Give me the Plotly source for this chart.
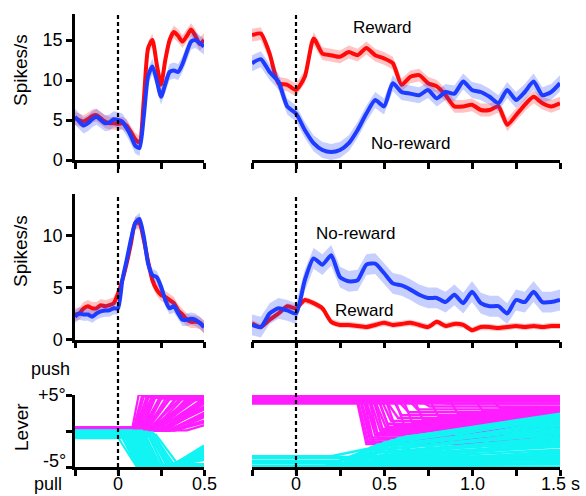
import numpy as np
import plotly.graph_objects as go

W, H = 586, 496

# ---------------- time bases (s) ----------------
T_SHORT = np.round(np.arange(-0.25, 0.5001, 0.025), 3)   # aligned to lever onset
T_LONG = np.round(np.arange(-0.25, 1.5001, 0.05), 3)     # aligned to outcome

# ---------------- neuron 1 (top row), spikes/s ----------------
N1_SHORT_REWARD = [5.2, 5.0, 4.8, 5.1, 5.5, 5.6, 5.2, 4.8, 4.6, 4.6, 4.5, 4.6, 4.3, 3.5, 2.6, 2.2,
                   7.5, 14.0, 15.0, 12.0, 9.4, 12.5, 15.0, 16.0, 15.5, 14.8, 15.5, 16.3, 15.5, 14.5, 15.0]
N1_SHORT_NOREWARD = [5.4, 4.8, 4.3, 4.6, 5.1, 5.4, 5.0, 4.6, 4.7, 5.1, 5.0, 4.8, 4.0, 3.0, 1.8, 1.5,
                     5.5, 10.5, 11.7, 10.0, 7.9, 9.5, 11.0, 11.2, 11.0, 12.0, 13.5, 14.8, 15.0, 14.6, 14.2]
N1_LONG_REWARD = [15.6, 15.8, 13.3, 9.6, 9.4, 8.75, 10.4, 15.2, 13.3, 13.1, 12.9, 13.5, 13.1, 14.0, 13.1,
                  12.7, 12.1, 9.4, 10.4, 10.6, 9.6, 9.2, 8.1, 6.7, 6.7, 6.9, 6.25, 6.25, 6.7, 4.4, 5.6,
                  6.9, 7.9, 7.1, 6.7, 7.1]
N1_LONG_NOREWARD = [12.1, 12.6, 11.0, 9.8, 6.7, 5.8, 3.75, 2.1, 1.25, 1.0, 1.25, 2.1, 3.75, 5.8, 7.5,
                    6.7, 9.6, 8.5, 8.3, 8.1, 8.75, 7.7, 8.5, 8.3, 9.8, 8.75, 8.5, 7.9, 7.1, 8.75, 7.5,
                    8.5, 9.8, 8.1, 8.5, 9.6]
N1_SEM_REWARD = 0.8
N1_SEM_NOREWARD = 1.0

# ---------------- neuron 2 (middle row), spikes/s ----------------
N2_SHORT_REWARD = [2.4, 2.5, 3.0, 3.2, 3.0, 3.0, 3.3, 3.2, 3.3, 3.5, 4.4, 5.7, 7.3, 9.2, 11.2, 11.2,
                   9.6, 7.5, 5.7, 4.8, 4.3, 4.1, 3.8, 3.5, 2.8, 2.4, 1.9, 1.7, 1.7, 1.6, 1.2]
N2_SHORT_NOREWARD = [2.2, 2.5, 2.4, 2.4, 2.2, 2.5, 2.7, 2.8, 2.8, 3.0, 3.0, 5.7, 7.6, 9.6, 11.2, 11.6,
                     9.9, 7.3, 6.2, 6.0, 5.1, 3.8, 3.0, 3.2, 2.5, 1.9, 1.9, 2.0, 1.9, 1.6, 1.2]
N2_LONG_REWARD = [1.55, 1.2, 1.9, 2.5, 3.2, 3.0, 3.8, 3.5, 3.0, 1.7, 1.4, 1.4, 1.3, 1.2, 1.4, 1.6, 1.4,
                  1.5, 1.6, 1.4, 1.2, 1.7, 1.3, 1.5, 1.4, 0.9, 1.2, 1.2, 1.1, 1.2, 1.3, 1.2, 1.3, 1.2,
                  1.3, 1.3]
N2_LONG_NOREWARD = [1.4, 1.2, 2.5, 3.0, 2.8, 2.5, 5.7, 7.8, 7.2, 8.1, 6.0, 5.6, 5.7, 7.2, 7.3, 6.4, 5.4,
                    5.2, 4.8, 4.3, 4.0, 4.0, 3.6, 4.3, 3.5, 4.6, 3.5, 3.2, 3.2, 2.5, 3.8, 3.6, 4.6, 3.6,
                    3.6, 3.8]
N2_SEM_SHORT = 0.6
N2_SEM_REWARD = 0.3
N2_SEM_NOREWARD = 1.0

# ---------------- lever trajectories (deg), one entry per trial ----------------
# Left panels (aligned to lever onset): resting level, movement onset (s), movement time (s),
# reached level, level at the end of the window.
PUSH_L_BASE = [0.0, 0.3, 0.5, 0.1, 0.4, 0.2, 0.0, 0.5, 0.3, 0.1, 0.4, 0.2, 0.0, 0.3, 0.5, 0.1,
               0.2, 0.4, 0.0, 0.3, 0.1, 0.5, 0.2, 0.4, 0.0, 0.3, 0.1, 0.2, 0.5, 0.0, 0.4, 0.2,
               0.25, 0.15, 0.35, 0.05, 0.45, 0.15, 0.35, 0.05, 0.25, 0.45, 0.15, 0.35, 0.05, 0.25,
               0.4, 0.1]
PUSH_L_ONSET = [0.08, 0.09, 0.10, 0.10, 0.11, 0.12, 0.12, 0.13, 0.14, 0.14, 0.15, 0.16, 0.16, 0.17,
                0.18, 0.18, 0.19, 0.20, 0.20, 0.21, 0.22, 0.22, 0.23, 0.24, 0.25, 0.26, 0.27, 0.28,
                0.29, 0.30, 0.32, 0.34, 0.11, 0.13, 0.15, 0.17, 0.19, 0.21, 0.23, 0.24, 0.26, 0.28,
                0.30, 0.31, 0.33, 0.36, 0.38, 0.40]
PUSH_L_DUR = [0.04, 0.05, 0.05, 0.07, 0.06, 0.06, 0.09, 0.08, 0.08, 0.11, 0.10, 0.10, 0.14, 0.12,
              0.12, 0.17, 0.15, 0.15, 0.20, 0.18, 0.18, 0.24, 0.22, 0.24, 0.26, 0.28, 0.28, 0.30,
              0.32, 0.34, 0.36, 0.40, 0.09, 0.13, 0.16, 0.21, 0.25, 0.27, 0.30, 0.33, 0.35, 0.38,
              0.40, 0.45, 0.48, 0.50, 0.55, 0.60]
PUSH_L_LEVEL = [5.0, 4.9, 4.8, 5.0, 4.7, 4.9, 5.0, 4.6, 4.8, 5.0, 4.5, 4.9, 4.7, 5.0, 4.4, 4.8,
                4.6, 5.0, 4.3, 4.9, 4.5, 5.0, 4.7, 4.2, 4.8, 5.0, 4.6, 4.4, 4.9, 4.1, 4.7, 4.5,
                4.95, 4.85, 4.75, 4.9, 4.65, 4.8, 4.55, 4.95, 4.35, 4.85, 4.25, 4.6, 4.0, 4.4,
                3.9, 4.3]

PULL_L_BASE = [-0.9, -0.2, -0.6, 0.0, -0.8, -0.4, -1.0, -0.1, -0.7, -0.3, -0.5, 0.1, -0.85, -0.25,
               -0.65, -0.05, -0.95, -0.45, -0.15, -0.75, -0.35, -0.55, 0.05, -0.9, -0.3, -0.6,
               -0.1, -0.8, -0.4, -0.2, -0.7, -0.5, -0.45, -0.75, -0.2, -0.6, -0.9, 0.0, -0.35,
               -0.65, -0.15, -0.85, -0.5, -0.25]
PULL_L_ONSET = [0.00, 0.01, 0.02, 0.03, 0.04, 0.05, 0.05, 0.06, 0.07, 0.07, 0.08, 0.08, 0.09, 0.09,
                0.10, 0.10, 0.11, 0.11, 0.12, 0.12, 0.13, 0.13, 0.14, 0.14, 0.15, 0.16, 0.17, 0.18,
                0.19, 0.20, 0.21, 0.22, 0.035, 0.055, 0.075, 0.095, 0.105, 0.115, 0.125, 0.135,
                0.145, 0.165, 0.185, 0.205]
PULL_L_DUR = [0.11, 0.10, 0.10, 0.09, 0.09, 0.08, 0.08, 0.08, 0.07, 0.07, 0.07, 0.07, 0.06, 0.06,
              0.06, 0.06, 0.06, 0.06, 0.06, 0.06, 0.06, 0.07, 0.07, 0.07, 0.08, 0.08, 0.09, 0.09,
              0.10, 0.11, 0.12, 0.14, 0.09, 0.08, 0.07, 0.065, 0.06, 0.06, 0.065, 0.07, 0.075,
              0.085, 0.10, 0.12]
PULL_L_LEVEL = [-5.0, -4.9, -5.0, -4.8, -5.0, -5.0, -4.9, -5.0, -4.7, -5.0, -5.0, -4.9, -5.0, -5.0,
                -4.8, -5.0, -4.9, -5.0, -5.0, -4.7, -5.0, -4.9, -5.0, -4.8, -5.0, -5.0, -4.9, -5.0,
                -4.6, -5.0, -4.8, -5.0, -5.0, -4.9, -5.0, -5.0, -4.85, -5.0, -5.0, -4.75, -5.0,
                -5.0, -4.9, -5.0]
PULL_L_END = [-5.0, -2.4, -5.0, -4.8, -3.2, -5.0, -4.9, -2.0, -4.7, -5.0, -3.6, -4.9, -5.0, -2.8,
              -4.8, -5.0, -4.0, -5.0, -3.0, -4.7, -5.0, -2.2, -5.0, -4.8, -3.4, -5.0, -4.9, -2.6,
              -4.6, -5.0, -3.8, -5.0, -5.0, -4.9, -3.1, -5.0, -4.85, -2.5, -5.0, -4.0, -5.0,
              -3.5, -4.9, -2.9]

# Right panels (aligned to outcome): holding level, release time (s; 9 = still holding at 1.5 s),
# level after release and level at the end of the window.
PUSH_R_BASE = [4.9, 4.5, 4.8, 4.2, 5.0, 4.6, 4.0, 4.8, 4.4, 5.0, 4.7, 4.1, 4.9, 4.3, 4.6, 5.0, 3.9,
               4.8, 4.5, 4.2, 4.9, 4.6, 5.0, 4.3, 4.7, 4.0, 4.8, 4.4, 4.9, 4.6, 5.0, 4.7, 4.4, 4.1,
               4.85, 4.55, 3.8, 4.95, 4.25, 4.65]
PUSH_R_RELEASE = [0.34, 0.35, 0.36, 0.37, 0.38, 0.39, 0.40, 0.41, 0.42, 0.43, 0.44, 0.45, 0.46, 0.47,
                  0.48, 0.50, 0.52, 0.54, 0.56, 0.58, 0.60, 0.63, 0.66, 0.70, 0.75, 0.80, 0.86, 0.93,
                  1.00, 1.10, 9, 9, 9, 9, 9, 9, 9, 9, 9, 9]
PUSH_R_LEVEL = [-1.8, -1.5, -1.2, -0.9, -1.6, -0.6, -0.3, -1.0, 0.0, 0.3, -0.5, 0.6, 1.0, 0.2, 1.4,
                0.8, 1.8, 2.2, 0.5, 2.6, 1.2, 3.0, 1.6, 3.4, 2.0, 3.8, 2.4, 4.2, 2.8, 3.2,
                0, 0, 0, 0, 0, 0, 0, 0, 0, 0]

PULL_R_BASE = [-5.0, -4.9, -5.0, -4.95, -3.5, -5.0, -4.9, -5.0, -4.2, -4.95, -5.0, -4.9, -5.0, -4.85,
               -5.0, -3.8, -4.95, -5.0, -4.9, -5.0, -4.95, -5.0, -4.5, -4.9, -5.0, -4.95, -5.0, -4.9,
               -5.0, -4.95, -5.0, -4.9, -5.0, -4.95, -5.0, -4.9, -3.6, -5.0, -4.95, -4.4]
PULL_R_RELEASE = [0.15, 0.16, 0.18, 0.19, 0.20, 0.21, 0.22, 0.23, 0.24, 0.25, 0.26, 0.27, 0.28, 0.29,
                  0.30, 0.31, 0.32, 0.33, 0.34, 0.35, 0.36, 0.37, 0.38, 0.40, 0.42, 0.44, 0.46, 0.48,
                  0.50, 0.53, 0.56, 0.60, 0.65, 0.72, 0.80, 0.90, 9, 9, 9, 9]
PULL_R_LEVEL = [-3.2, -4.5, -2.8, -4.0, -2.5, -3.6, -4.8, -2.2, -3.0, -4.2, -1.9, -3.4, -4.6, -2.6,
                -1.6, -3.8, -4.4, -2.0, -1.3, -3.1, -4.1, -2.4, -1.0, -3.5, -0.8, -2.7, -4.3, -1.8,
                -0.6, -3.3, -2.1, -1.4, -3.9, -0.5, -2.9, -1.2, -5, -5, -5, -5]
PULL_R_END = [-1.5, -4.0, -0.5, -3.2, 0.4, -2.0, -4.6, 1.0, -1.0, -3.4, 1.6, -1.8, -4.3, 0.0, 2.0,
              -2.6, -3.8, 0.7, 2.2, -1.2, -3.0, -0.2, 2.4, -2.2, 1.8, -0.8, -3.6, 1.3, 2.3, -1.6,
              0.2, 1.5, -2.8, 2.0, -0.4, 0.9, -5, -5, -5, -5]

# axis labels of the lever panels
SHORT_LABELS = {0: "0", 0.5: "0.5"}
LONG_LABELS = {0: "0", 0.5: "0.5", 1.0: "1.0", 1.5: "1.5 s"}
LEVER_LABELS = {5: "+5°", -5: "-5°"}

RED, BLUE = "#ff0a0a", "#1e3cff"
RED_BAND, BLUE_BAND = "rgba(255,40,40,0.28)", "rgba(40,70,255,0.26)"
MAGENTA, CYAN = "#ff1cff", "#12f4f4"
FONT = "Liberation Sans, Arial, sans-serif"

fig = go.Figure()


def mean_trace(t, y, sem, color, band, xa, ya):
    y = np.asarray(y, dtype=float)
    xs = np.concatenate([t, t[::-1]])
    ys = np.concatenate([y + sem, (y - sem)[::-1]])
    fig.add_trace(go.Scatter(x=xs, y=ys, fill="toself", fillcolor=band, line=dict(width=0),
                             mode="lines", hoverinfo="skip", showlegend=False, xaxis=xa, yaxis=ya))
    fig.add_trace(go.Scatter(x=t, y=y, mode="lines",
                             line=dict(color=color, width=4, shape="spline", smoothing=0.6),
                             showlegend=False, xaxis=xa, yaxis=ya))


mean_trace(T_SHORT, N1_SHORT_REWARD, N1_SEM_REWARD, RED, RED_BAND, "x", "y")
mean_trace(T_SHORT, N1_SHORT_NOREWARD, N1_SEM_NOREWARD, BLUE, BLUE_BAND, "x", "y")
mean_trace(T_LONG, N1_LONG_REWARD, N1_SEM_REWARD, RED, RED_BAND, "x2", "y2")
mean_trace(T_LONG, N1_LONG_NOREWARD, N1_SEM_NOREWARD, BLUE, BLUE_BAND, "x2", "y2")
mean_trace(T_SHORT, N2_SHORT_REWARD, N2_SEM_SHORT, RED, RED_BAND, "x3", "y3")
mean_trace(T_SHORT, N2_SHORT_NOREWARD, N2_SEM_SHORT, BLUE, BLUE_BAND, "x3", "y3")
mean_trace(T_LONG, N2_LONG_REWARD, N2_SEM_REWARD, RED, RED_BAND, "x4", "y4")
mean_trace(T_LONG, N2_LONG_NOREWARD, N2_SEM_NOREWARD, BLUE, BLUE_BAND, "x4", "y4")


def lever_group(t0, t1, base, onset, dur, level, end, hold, color, xa, ya, width=2.2):
    """All trials of one movement type as a single line trace (trials split by None)."""
    xs, ys = [], []
    for b, o, d, lv, e in zip(base, onset, dur, level, end):
        if o >= t1:
            xs += [t0, t1, None]
            ys += [b, b, None]
        else:
            reach = o + d
            settle = max(reach, hold)
            xs += [t0, o, reach, settle, t1, None]
            ys += [b, b, lv, lv, e, None]
    fig.add_trace(go.Scatter(x=xs, y=ys, mode="lines", line=dict(color=color, width=width),
                             showlegend=False, hoverinfo="skip", xaxis=xa, yaxis=ya))


lever_group(-0.25, 0.5, PUSH_L_BASE, PUSH_L_ONSET, PUSH_L_DUR, PUSH_L_LEVEL, PUSH_L_LEVEL, 0.0,
            MAGENTA, "x5", "y5")
lever_group(-0.25, 0.5, PULL_L_BASE, PULL_L_ONSET, PULL_L_DUR, PULL_L_LEVEL, PULL_L_END, 0.3,
            CYAN, "x5", "y5")
lever_group(-0.25, 1.5, PUSH_R_BASE, PUSH_R_RELEASE, [0.06] * len(PUSH_R_BASE), PUSH_R_LEVEL,
            PUSH_R_LEVEL, 0.0, MAGENTA, "x6", "y6", width=2.4)
lever_group(-0.25, 1.5, PULL_R_BASE, PULL_R_RELEASE, [0.2] * len(PULL_R_BASE), PULL_R_LEVEL,
            PULL_R_END, 0.0, CYAN, "x6", "y6", width=2.4)


def fx(p):
    return p / W


def fy(p):
    return 1 - p / H


axis_style = dict(showline=True, linecolor="black", linewidth=2.5, ticks="outside", ticklen=6,
                  tickwidth=2.5, tickcolor="black", showgrid=False, zeroline=False,
                  automargin=False, tickfont=dict(family=FONT, size=18, color="black"))

left_dom = [fx(75), fx(204)]
right_dom = [fx(252), fx(560)]
top_dom = [fy(160), fy(14)]
mid_dom = [fy(339.5), fy(194)]
bot_dom = [fy(467), fy(395)]

short_ticks = [-0.25, 0, 0.25, 0.5]
long_ticks = [-0.25, 0, 0.25, 0.5, 0.75, 1.0, 1.25, 1.5]

layout = dict(
    width=W, height=H, margin=dict(l=0, r=0, t=0, b=0, pad=0), autosize=False,
    plot_bgcolor="white", paper_bgcolor="white", showlegend=False,
    font=dict(family=FONT, color="black"),
    xaxis=dict(domain=left_dom, anchor="y", range=[-0.25, 0.5], tickvals=short_ticks,
               showticklabels=False, **axis_style),
    yaxis=dict(domain=top_dom, anchor="x", range=[0, 18.25], tickvals=[0, 5, 10, 15], **axis_style),
    xaxis2=dict(domain=right_dom, anchor="y2", range=[-0.25, 1.5], tickvals=long_ticks,
                showticklabels=False, **axis_style),
    yaxis2=dict(domain=top_dom, anchor="x2", range=[0, 18.25], visible=False),
    xaxis3=dict(domain=left_dom, anchor="y3", range=[-0.25, 0.5], tickvals=short_ticks,
                showticklabels=False, **axis_style),
    yaxis3=dict(domain=mid_dom, anchor="x3", range=[0, 14], tickvals=[0, 5, 10], **axis_style),
    xaxis4=dict(domain=right_dom, anchor="y4", range=[-0.25, 1.5], tickvals=long_ticks,
                showticklabels=False, **axis_style),
    yaxis4=dict(domain=mid_dom, anchor="x4", range=[0, 14], visible=False),
    xaxis5=dict(domain=left_dom, anchor="y5", range=[-0.25, 0.5], tickvals=short_ticks,
                showticklabels=False, layer="below traces", **axis_style),
    yaxis5=dict(domain=bot_dom, anchor="x5", range=[-5, 5], tickvals=[-5, 0, 5],
                showticklabels=False, **axis_style),
    xaxis6=dict(domain=right_dom, anchor="y6", range=[-0.25, 1.5], tickvals=long_ticks,
                showticklabels=False, layer="below traces", **axis_style),
    yaxis6=dict(domain=bot_dom, anchor="x6", range=[-5, 5], visible=False),
)
fig.update_layout(**layout)

# dashed markers at time zero
for xa in ("x", "x2"):
    fig.add_shape(type="line", xref=xa, yref="paper", x0=0, x1=0, y0=fy(173), y1=fy(14),
                  line=dict(color="black", width=2.2, dash="4px,3px"))
    fig.add_shape(type="line", xref=xa, yref="paper", x0=0, x1=0, y0=fy(474), y1=fy(197),
                  line=dict(color="black", width=2.2, dash="4px,3px"))

# time labels under the lever panels, kept tight against the bottom edge
for xa, labels in (("x5", SHORT_LABELS), ("x6", LONG_LABELS)):
    for val, txt in labels.items():
        fig.add_annotation(text=txt, x=val, y=fy(495.5), xref=xa, yref="paper", showarrow=False,
                           xanchor="center", yanchor="bottom",
                           font=dict(family=FONT, size=18, color="black"))

# lever angle labels; the lower one sits slightly raised to clear the "pull" caption
for val, txt in LEVER_LABELS.items():
    fig.add_annotation(text=txt, x=fx(68), y=val, xref="paper", yref="y5", showarrow=False,
                       xanchor="right", yanchor="middle" if val > 0 else "bottom",
                       yshift=0 if val > 0 else -6,
                       font=dict(family=FONT, size=18, color="black"))


def label(text, x, y, size=17, angle=0, yanchor="middle"):
    fig.add_annotation(text=text, x=fx(x), y=fy(y), xref="paper", yref="paper", showarrow=False,
                       xanchor="center", yanchor=yanchor, textangle=angle,
                       font=dict(family=FONT, size=size, color="black"))


label("Reward", 382, 27)
label("No-reward", 410, 143)
label("No-reward", 355, 233)
label("Reward", 364, 310)
label("Spikes/s", 20, 70, size=19, angle=-90)
label("Spikes/s", 20, 251, size=19, angle=-90)
label("Lever", 21, 427, size=19, angle=-90)
label("push", 50, 369, size=18)
label("pull", 48, 495.5, size=18, yanchor="bottom")

fig.write_html("out.html")
